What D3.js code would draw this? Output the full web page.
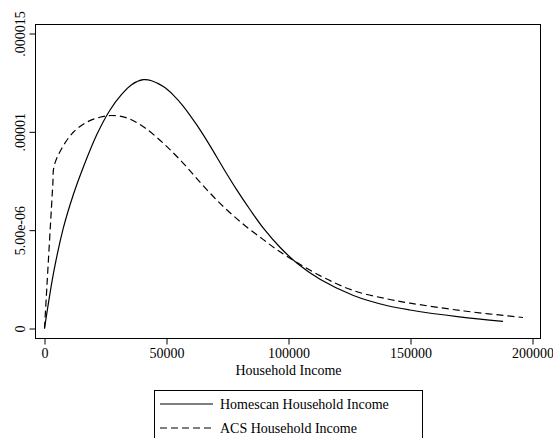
<!DOCTYPE html>
<html>
<head>
<meta charset="utf-8">
<script src="https://cdn.jsdelivr.net/npm/d3@7"></script>
<style>
  html, body { margin: 0; padding: 0; background: #fff; }
  svg { display: block; }
  text { font-family: "Liberation Serif", "Times New Roman", Times, serif; fill: #000; }
</style>
</head>
<body>
<svg id="chart" width="553" height="438"></svg>
<script>
// Kernel density estimates of household income (income, density)
const homescanIncome = [0, 3900, 7700, 11800, 15900, 21400, 26800, 31600, 35700, 40500, 43900,
  48700, 52800, 56900, 62400, 67800, 73300, 78800, 84200, 89700, 96500, 103400, 112900,
  126600, 140200, 149800, 170000, 187900];
const homescanDensity = [0, 2.95e-6, 5.1e-6, 6.8e-6, 8.2e-6, 9.85e-6, 1.11e-5, 1.19e-5,
  1.24e-5, 1.265e-5, 1.26e-5, 1.23e-5, 1.187e-5, 1.13e-5, 1.035e-5, 9.3e-6, 8.15e-6,
  7.05e-6, 6.05e-6, 5.1e-6, 4.13e-6, 3.33e-6, 2.5e-6, 1.68e-6, 1.17e-6, 9.4e-7, 5.9e-7, 3.6e-7];

const acsIncome = [0, 3400, 3900, 7000, 11800, 17300, 22700, 27500, 33700, 40500, 48700, 56900,
  65100, 73300, 81500, 89700, 96500, 112900, 126600, 140200, 149800, 172000, 196100];
const acsDensity = [0, 7.3e-6, 8.24e-6, 9.14e-6, 9.98e-6, 1.049e-5, 1.074e-5, 1.083e-5,
  1.071e-5, 1.026e-5, 9.42e-6, 8.4e-6, 7.25e-6, 6.2e-6, 5.3e-6, 4.52e-6, 3.9e-6, 2.69e-6,
  1.93e-6, 1.51e-6, 1.29e-6, 8.9e-7, 5.6e-7];

const xTicks = [0, 50000, 100000, 150000, 200000];
const yTicks = [0, 5e-6, 1e-5, 1.5e-5];
const yTickLabels = ["0", "5.00e-06", ".00001", ".000015"];

const seriesNames = ["Homescan Household Income", "ACS Household Income"];
const xTitle = "Household Income";

const FONT = "'Liberation Serif', 'Times New Roman', Times, serif";
const svg = d3.select("#chart");
const frame = { left: 35.5, top: 24.5, right: 540.5, bottom: 338.5 };

const x = d3.scaleLinear().domain([0, 200000]).range([44.5, 532.5]);
const y = d3.scaleLinear().domain([0, 1.5e-5]).range([328.5, 33.5]);

// plot region border
svg.append("rect")
  .attr("x", frame.left).attr("y", frame.top)
  .attr("width", frame.right - frame.left).attr("height", frame.bottom - frame.top)
  .attr("fill", "none").attr("stroke", "#000").attr("stroke-width", 1);

// x axis
const xAxis = svg.append("g")
  .attr("transform", `translate(0,${frame.bottom})`)
  .call(d3.axisBottom(x).tickValues(xTicks).tickFormat(d3.format("d"))
    .tickSize(6).tickPadding(4));
xAxis.attr("font-family", FONT);
xAxis.select(".domain").remove();
xAxis.selectAll("line").attr("stroke", "#000");
xAxis.selectAll("text").attr("font-size", 14);

// y axis with rotated labels
const yAxis = svg.append("g")
  .attr("transform", `translate(${frame.left},0)`)
  .call(d3.axisLeft(y).tickValues(yTicks).tickFormat((d, i) => yTickLabels[i]).tickSize(6));
yAxis.attr("font-family", FONT);
yAxis.select(".domain").remove();
yAxis.selectAll("line").attr("stroke", "#000");
yAxis.selectAll("text")
  .attr("font-size", 14)
  .attr("x", 0).attr("y", -10.5).attr("dy", 0)
  .attr("text-anchor", "middle")
  .attr("transform", "rotate(-90)");

// x axis title
svg.append("text")
  .attr("x", (x.range()[0] + x.range()[1]) / 2).attr("y", 375)
  .attr("text-anchor", "middle").attr("font-size", 14)
  .text(xTitle);

const line = d3.line()
  .x(d => x(d[0])).y(d => y(d[1]))
  .curve(d3.curveCatmullRom.alpha(0.5));

const homescan = homescanIncome.map((v, i) => [v, homescanDensity[i]]);
const acs = acsIncome.map((v, i) => [v, acsDensity[i]]);

svg.append("path").datum(homescan)
  .attr("d", line).attr("fill", "none")
  .attr("stroke", "#000").attr("stroke-width", 1.2);

svg.append("path").datum(acs)
  .attr("d", line).attr("fill", "none")
  .attr("stroke", "#000").attr("stroke-width", 1.2)
  .attr("stroke-dasharray", "7,4");

// legend
const legend = svg.append("g");
legend.append("rect")
  .attr("x", 154.5).attr("y", 390.5).attr("width", 268).attr("height", 60)
  .attr("fill", "#fff").attr("stroke", "#000").attr("stroke-width", 1);
const dashes = [null, "7,4"];
seriesNames.forEach((name, i) => {
  const yy = 404 + i * 24;
  legend.append("line")
    .attr("x1", 160).attr("x2", 213).attr("y1", yy).attr("y2", yy)
    .attr("stroke", "#000").attr("stroke-width", 1.2)
    .attr("stroke-dasharray", dashes[i]);
  legend.append("text")
    .attr("x", 220).attr("y", yy + 4.5)
    .attr("font-size", 14)
    .text(name);
});
</script>
</body>
</html>
